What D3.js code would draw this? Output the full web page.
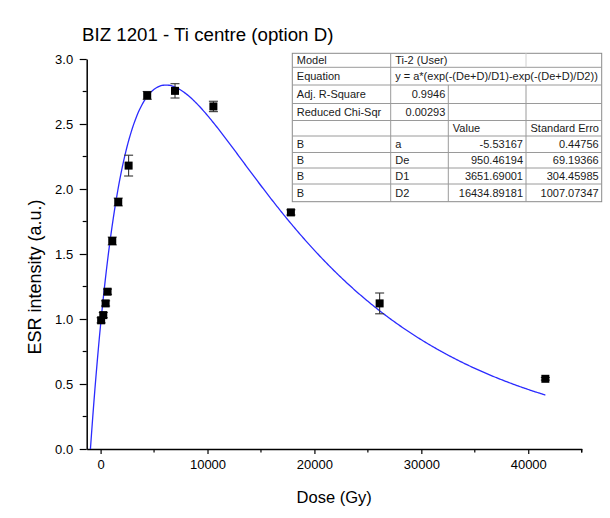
<!DOCTYPE html>
<html>
<head>
<meta charset="utf-8">
<script src="https://cdn.jsdelivr.net/npm/d3@7"></script>
<style>
  html, body { margin: 0; padding: 0; background: #ffffff; }
  svg { display: block; font-family: "Liberation Sans", Arial, sans-serif; }
</style>
</head>
<body>
<svg id="chart" width="610" height="518"></svg>
<script>
// Measured ESR intensities vs. dose
const dose      = [50, 250, 470, 650, 1090, 1650, 2620, 4360, 6960, 10550, 17800, 26100, 41600];
const intensity = [0.99, 1.03, 1.12, 1.21, 1.60, 1.90, 2.18, 2.72, 2.755, 2.635, 1.82, 1.12, 0.54];
const errors    = [0.02, 0.02, 0.02, 0.02, 0.03, 0.03, 0.08, 0.03, 0.055, 0.04, 0.02, 0.08, 0.01];

// Fitted parameters (Ti-2 model)
const fitA  = -5.53167;
const fitDe = 950.46194;
const fitD1 = 3651.69001;
const fitD2 = 16434.89181;

const xTicks = [0, 10000, 20000, 30000, 40000];
const yTicks = [0.0, 0.5, 1.0, 1.5, 2.0, 2.5, 3.0];

// Fit report table rows
const tableRows = [
  ["Model", "Ti-2 (User)", "", ""],
  ["Equation", "y = a*(exp(-(De+D)/D1)-exp(-(De+D)/D2))", "", ""],
  ["Adj. R-Square", "0.9946", "", ""],
  ["Reduced Chi-Sqr", "0.00293", "", ""],
  ["", "", "Value", "Standard Erro"],
  ["B", "a", "-5.53167", "0.44756"],
  ["B", "De", "950.46194", "69.19366"],
  ["B", "D1", "3651.69001", "304.45985"],
  ["B", "D2", "16434.89181", "1007.07347"]
];

const svg = d3.select("#chart");

const x = d3.scaleLinear().domain([-1300, 45000]).range([86.7, 581.7]);
const y = d3.scaleLinear().domain([0, 3]).range([449, 59]);

// Title
svg.append("text")
  .attr("x", 82).attr("y", 41)
  .attr("font-size", 18.7).attr("fill", "#000")
  .text("BIZ 1201 - Ti centre (option D)");

// Axes
const xAxis = d3.axisBottom(x).tickValues(xTicks).tickFormat(d3.format("d")).tickSize(5).tickSizeOuter(0);
const gx = svg.append("g").attr("transform", "translate(0,449)").call(xAxis);
gx.select(".domain").attr("stroke", "#000").attr("stroke-width", 1.5);
gx.selectAll(".tick line").attr("stroke", "#000").attr("stroke-width", 1.2);
gx.selectAll(".tick text").attr("font-size", 13).attr("font-family", "Liberation Sans, Arial, sans-serif").attr("fill", "#000").attr("dy", "0.95em");
// minor x ticks
const xMinor = d3.range(5000, 45001, 10000);
svg.append("g").selectAll("line").data(xMinor).join("line")
  .attr("x1", d => x(d)).attr("x2", d => x(d))
  .attr("y1", 449).attr("y2", 452.5)
  .attr("stroke", "#000").attr("stroke-width", 1.2);
svg.append("line").attr("x1", x(45000)).attr("x2", x(45000)).attr("y1", 449).attr("y2", 452.5)
  .attr("stroke", "#000").attr("stroke-width", 1.2);

const yAxis = d3.axisLeft(y).tickValues(yTicks).tickFormat(d3.format(".1f")).tickSize(7).tickSizeOuter(0);
const gy = svg.append("g").attr("transform", "translate(86.7,0)").call(yAxis);
gy.select(".domain").attr("stroke", "#000").attr("stroke-width", 1.5);
gy.selectAll(".tick line").attr("stroke", "#000").attr("stroke-width", 1.2);
gy.selectAll(".tick text").attr("font-size", 13).attr("font-family", "Liberation Sans, Arial, sans-serif").attr("fill", "#000").attr("x", -13.5);
const yMinor = d3.range(0.25, 3, 0.5);
svg.append("g").selectAll("line").data(yMinor).join("line")
  .attr("x1", 86.7).attr("x2", 82.7)
  .attr("y1", d => y(d)).attr("y2", d => y(d))
  .attr("stroke", "#000").attr("stroke-width", 1.2);

// Axis titles
svg.append("text")
  .attr("x", x(21850)).attr("y", 503)
  .attr("text-anchor", "middle").attr("font-size", 16.5).attr("fill", "#000")
  .text("Dose (Gy)");
svg.append("text")
  .attr("transform", "translate(41,277) rotate(-90)")
  .attr("text-anchor", "middle").attr("font-size", 18).attr("fill", "#000")
  .text("ESR intensity (a.u.)");

// Fitted curve
const fit = D => fitA * (Math.exp(-(fitDe + D) / fitD1) - Math.exp(-(fitDe + D) / fitD2));
const dMax = d3.max(dose);
const curvePts = d3.range(0, 401).map(i => {
  const D = -fitDe + (dMax + fitDe) * i / 400;
  return [D, fit(D)];
});
svg.append("path")
  .datum(curvePts)
  .attr("fill", "none").attr("stroke", "#2b2bff").attr("stroke-width", 1.3)
  .attr("d", d3.line().x(d => x(d[0])).y(d => y(d[1])));

// Error bars
const pts = dose.map((d, i) => ({ d, v: intensity[i], e: errors[i] }));
const eb = svg.append("g").attr("stroke", "#333").attr("stroke-width", 1.1);
pts.forEach(p => {
  eb.append("line").attr("x1", x(p.d)).attr("x2", x(p.d)).attr("y1", y(p.v - p.e)).attr("y2", y(p.v + p.e));
  eb.append("line").attr("x1", x(p.d) - 4.5).attr("x2", x(p.d) + 4.5).attr("y1", y(p.v - p.e)).attr("y2", y(p.v - p.e));
  eb.append("line").attr("x1", x(p.d) - 4.5).attr("x2", x(p.d) + 4.5).attr("y1", y(p.v + p.e)).attr("y2", y(p.v + p.e));
});

// Markers
svg.append("g").selectAll("rect").data(pts).join("rect")
  .attr("x", p => x(p.d) - 4).attr("y", p => y(p.v) - 4)
  .attr("width", 8).attr("height", 8).attr("fill", "#000");

// Fit report table
const colX = [292.3, 390.7, 448.3, 526, 601.7];
const rowY = [53.3, 67.3, 85, 103.5, 120.5, 136, 152.5, 168, 184, 201.7];
const tbl = svg.append("g");
tbl.append("rect")
  .attr("x", colX[0]).attr("y", rowY[0])
  .attr("width", colX[4] - colX[0]).attr("height", rowY[9] - rowY[0])
  .attr("fill", "#fff").attr("stroke", "#8a8a8a").attr("stroke-width", 1);
// horizontal rules
rowY.slice(1, 9).forEach(yy => {
  tbl.append("line").attr("x1", colX[0]).attr("x2", colX[4]).attr("y1", yy).attr("y2", yy)
    .attr("stroke", "#9a9a9a").attr("stroke-width", 1);
});
// vertical rules
tbl.append("line").attr("x1", colX[1]).attr("x2", colX[1]).attr("y1", rowY[0]).attr("y2", rowY[9]).attr("stroke", "#9a9a9a");
tbl.append("line").attr("x1", colX[2]).attr("x2", colX[2]).attr("y1", rowY[2]).attr("y2", rowY[9]).attr("stroke", "#9a9a9a");
tbl.append("line").attr("x1", colX[3]).attr("x2", colX[3]).attr("y1", rowY[2]).attr("y2", rowY[9]).attr("stroke", "#9a9a9a");
tbl.append("line").attr("x1", colX[3]).attr("x2", colX[3]).attr("y1", rowY[0]).attr("y2", rowY[1]).attr("stroke", "#d0d0d0");

tableRows.forEach((row, r) => {
  const cy = (rowY[r] + rowY[r + 1]) / 2 + 4;
  row.forEach((txt, c) => {
    if (!txt) return;
    const numeric = /^-?[0-9.]+$/.test(txt);
    const t = tbl.append("text").attr("y", cy).attr("font-size", 11).attr("fill", "#1a1a1a").text(txt);
    if (numeric) {
      t.attr("x", colX[c + 1] - 3).attr("text-anchor", "end");
    } else {
      t.attr("x", colX[c] + 4.5);
    }
  });
});
</script>
</body>
</html>
